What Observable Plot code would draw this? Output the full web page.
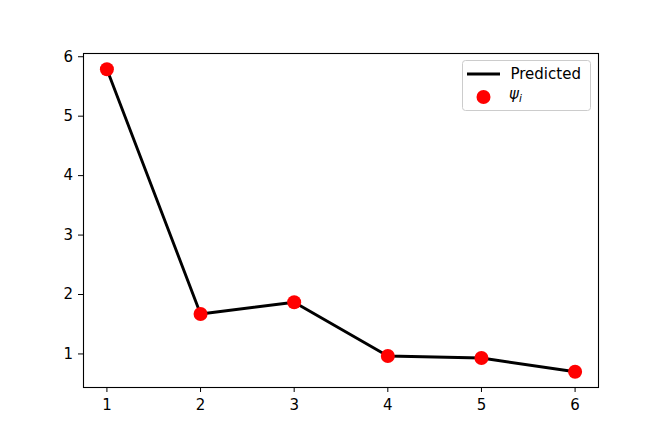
<!DOCTYPE html>
<html>
<head>
<meta charset="utf-8">
<script src="https://cdn.jsdelivr.net/npm/d3@7"></script>
<script src="https://cdn.jsdelivr.net/npm/@observablehq/plot@0.6"></script>
<style>
  html, body { margin: 0; padding: 0; background: #fff; }
  #chart { position: relative; width: 664px; height: 443px; }
  #chart svg text { font-family: "DejaVu Sans", sans-serif !important; font-size: 15px !important; }
  #chart svg text tspan.sub { font-size: 10.5px !important; }
  #chart svg g.legend text { text-anchor: start !important; }
</style>
</head>
<body>
<div id="chart"></div>
<script>
const xs = [1, 2, 3, 4, 5, 6];
const psi = [5.79, 1.673, 1.869, 0.965, 0.931, 0.70];
const predicted = [5.79, 1.673, 1.869, 0.965, 0.931, 0.70];
const xTicks = [1, 2, 3, 4, 5, 6];
const yTicks = [1, 2, 3, 4, 5, 6];
const legendLabels = ["Predicted", "ψ"];

const pts = xs.map((x, i) => ({x, y: psi[i]}));
const line = xs.map((x, i) => ({x, y: predicted[i]}));

const plot = Plot.plot({
  width: 664,
  height: 443,
  marginLeft: 83,
  marginRight: 66,
  marginTop: 53,
  marginBottom: 56,
  style: {color: "black", background: "white"},
  x: {domain: [0.75, 6.25], ticks: xTicks, tickFormat: d3.format("d"), label: null, tickSize: 5, tickPadding: 6.5},
  y: {domain: [0.4355, 6.0545], ticks: yTicks, tickFormat: d3.format("d"), label: null, tickSize: 5, tickPadding: 5.5},
  marks: [
    Plot.frame({stroke: "black", strokeWidth: 1.1}),
    Plot.line(line, {x: "x", y: "y", stroke: "black", strokeWidth: 2.9}),
    Plot.dot(pts, {x: "x", y: "y", r: 7, fill: "red", stroke: "none"})
  ]
});
document.getElementById("chart").appendChild(plot);

// legend
const svg = d3.select(plot);
const g = svg.append("g").attr("class", "legend").attr("text-anchor", "start");
g.append("rect").attr("x", 462.5).attr("y", 60.5).attr("width", 128).attr("height", 50)
  .attr("rx", 3).attr("fill", "white").attr("fill-opacity", 0.8).attr("stroke", "#cccccc");
g.append("line").attr("x1", 467).attr("x2", 500).attr("y1", 74).attr("y2", 74)
  .attr("stroke", "black").attr("stroke-width", 2.9);
g.append("text").attr("x", 510.5).attr("y", 78.5).text(legendLabels[0]);
g.append("circle").attr("cx", 483.5).attr("cy", 97).attr("r", 7).attr("fill", "red");
const t = g.append("text").attr("x", 509).attr("y", 99);
t.append("tspan").attr("font-style", "italic").text(legendLabels[1]);
t.append("tspan").attr("class", "sub").attr("font-style", "italic").attr("dy", "2.5").text("i");
</script>
</body>
</html>
